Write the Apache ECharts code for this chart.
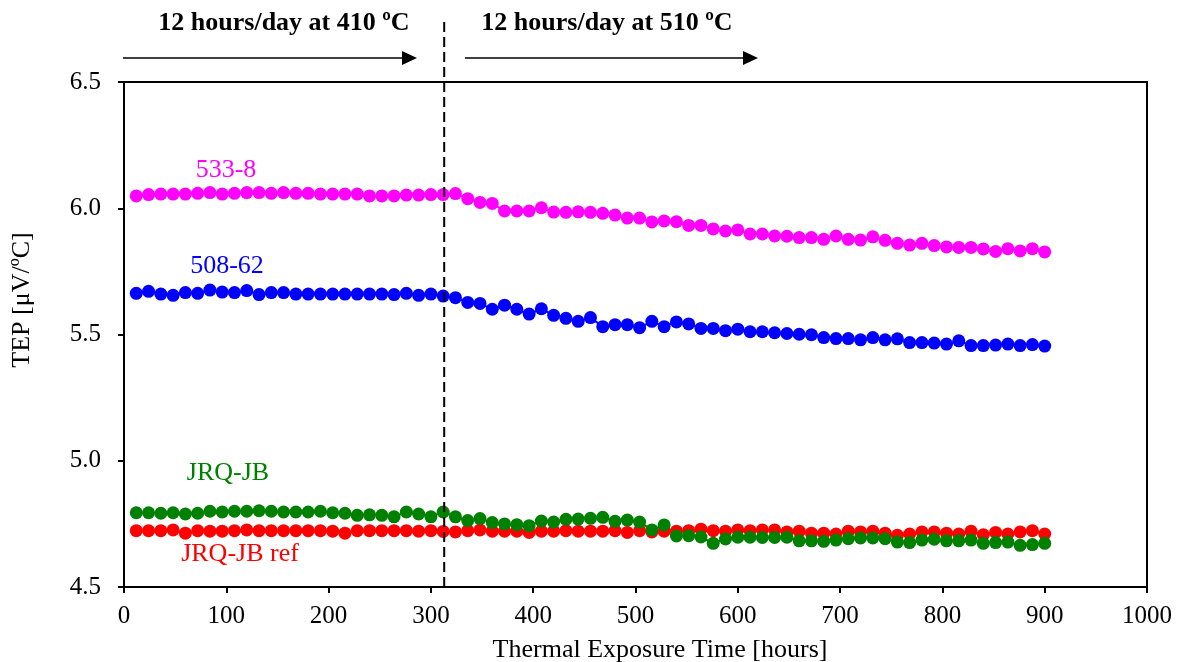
<!DOCTYPE html>
<html>
<head>
<meta charset="utf-8">
<script src="https://cdn.jsdelivr.net/npm/echarts@6/dist/echarts.min.js"></script>
<style>
html,body{margin:0;padding:0;background:#fff;}
#chart{width:1182px;height:662px;}
</style>
</head>
<body>
<div id="chart"></div>
<script>
const hours = [12,24,36,48,60,72,84,96,108,120,132,144,156,168,180,192,204,216,228,240,252,264,276,288,300,312,324,336,348,360,372,384,396,408,420,432,444,456,468,480,492,504,516,528,540,552,564,576,588,600,612,624,636,648,660,672,684,696,708,720,732,744,756,768,780,792,804,816,828,840,852,864,876,888,900];

const s533_8 = [6.049,6.054,6.056,6.056,6.056,6.059,6.062,6.056,6.059,6.062,6.062,6.059,6.062,6.059,6.059,6.056,6.056,6.056,6.056,6.049,6.049,6.049,6.052,6.052,6.054,6.054,6.058,6.038,6.023,6.019,5.989,5.989,5.989,6.002,5.985,5.984,5.986,5.984,5.980,5.973,5.961,5.961,5.946,5.950,5.947,5.932,5.932,5.918,5.910,5.914,5.898,5.898,5.890,5.889,5.884,5.884,5.877,5.890,5.877,5.874,5.887,5.873,5.861,5.854,5.861,5.852,5.847,5.845,5.845,5.839,5.829,5.840,5.831,5.840,5.827];

const s508_62 = [5.663,5.671,5.660,5.655,5.666,5.663,5.676,5.668,5.666,5.674,5.658,5.666,5.666,5.660,5.660,5.660,5.660,5.660,5.660,5.660,5.660,5.658,5.663,5.655,5.660,5.652,5.646,5.627,5.623,5.600,5.616,5.600,5.581,5.602,5.576,5.564,5.552,5.567,5.531,5.539,5.539,5.527,5.552,5.531,5.550,5.542,5.524,5.524,5.515,5.521,5.511,5.511,5.507,5.504,5.501,5.499,5.488,5.484,5.484,5.479,5.488,5.479,5.483,5.468,5.468,5.466,5.462,5.475,5.456,5.456,5.458,5.462,5.456,5.460,5.454];

const sJRQ_JB = [4.794,4.794,4.792,4.794,4.789,4.792,4.800,4.797,4.800,4.800,4.802,4.800,4.797,4.797,4.797,4.800,4.794,4.792,4.784,4.786,4.784,4.778,4.797,4.789,4.778,4.797,4.778,4.763,4.771,4.755,4.750,4.747,4.743,4.761,4.757,4.768,4.769,4.772,4.776,4.760,4.765,4.757,4.726,4.746,4.702,4.703,4.698,4.673,4.690,4.697,4.697,4.696,4.696,4.697,4.683,4.683,4.681,4.686,4.691,4.694,4.694,4.691,4.678,4.676,4.686,4.689,4.683,4.683,4.686,4.673,4.676,4.678,4.665,4.668,4.673];

const sJRQ_JB_ref = [4.723,4.723,4.723,4.726,4.713,4.723,4.721,4.721,4.723,4.726,4.723,4.723,4.723,4.723,4.723,4.723,4.721,4.713,4.723,4.723,4.723,4.723,4.723,4.721,4.723,4.720,4.718,4.723,4.726,4.721,4.721,4.721,4.716,4.721,4.721,4.723,4.721,4.721,4.721,4.723,4.716,4.723,4.718,4.721,4.721,4.723,4.729,4.723,4.721,4.726,4.723,4.726,4.726,4.718,4.721,4.713,4.713,4.710,4.721,4.718,4.721,4.713,4.705,4.710,4.718,4.718,4.713,4.710,4.721,4.707,4.716,4.710,4.718,4.723,4.710];

const switchHour = 313;
const FONT = '"Liberation Serif", "Times New Roman", serif';

const chart = echarts.init(document.getElementById('chart'), null, {renderer: 'canvas'});

function pairs(arr){ return hours.map((h,i)=>[h, arr[i]]); }
function mkSeries(name, arr, color){
  return {
    name: name, type: 'line', data: pairs(arr),
    symbol: 'circle', symbolSize: 13,
    itemStyle: {color: color},
    lineStyle: {color: color, width: 2},
    emphasis: {disabled: true},
    animation: false
  };
}

const option = {
  animation: false,
  backgroundColor: '#fff',
  grid: {left: 124, right: 35, top: 82, bottom: 75, containLabel: false, outerBoundsMode: 'none',
         show: true, borderColor: '#000', borderWidth: 2, backgroundColor: 'transparent'},
  xAxis: {
    type: 'value', min: 0, max: 1000, interval: 100,
    axisLine: {show: true, lineStyle: {color: '#000', width: 2}},
    axisTick: {show: true, inside: false, length: 6, lineStyle: {color: '#000', width: 2}},
    axisLabel: {fontFamily: FONT, fontSize: 25, color: '#000', margin: 17, formatter: v => String(v)},
    splitLine: {show: false}
  },
  yAxis: {
    type: 'value', min: 4.5, max: 6.5, interval: 0.5,
    axisLine: {show: true, lineStyle: {color: '#000', width: 2}},
    axisTick: {show: true, inside: false, length: 6, lineStyle: {color: '#000', width: 2}},
    axisLabel: {fontFamily: FONT, fontSize: 25, color: '#000', margin: 23, formatter: v => v.toFixed(1)},
    splitLine: {show: false}
  },
  series: [
    mkSeries('533-8', s533_8, '#FF00FF'),
    mkSeries('508-62', s508_62, '#0000FF'),
    mkSeries('JRQ-JB ref', sJRQ_JB_ref, '#FF0000'),
    mkSeries('JRQ-JB', sJRQ_JB, '#008000')
  ]
};
chart.setOption(option);

const xSwitch = chart.convertToPixel({xAxisIndex: 0}, switchHour);
const yBottom = chart.convertToPixel({yAxisIndex: 0}, 4.5);
const tStyle = (txt, color, size, bold) => ({text: txt, fill: color, font: (bold ? 'bold ' : '') + size + 'px ' + FONT, textAlign: 'center', textVerticalAlign: 'middle'});

chart.setOption({
  graphic: [
    {type: 'line', shape: {x1: xSwitch, y1: 22, x2: xSwitch, y2: yBottom}, style: {stroke: '#000', lineWidth: 2, lineDash: [10, 5]}, z: 100},
    {type: 'text', x: 284, y: 23, style: tStyle('12 hours/day at 410 ºC', '#000', 26, true)},
    {type: 'text', x: 607, y: 23, style: tStyle('12 hours/day at 510 ºC', '#000', 26, true)},
    {type: 'line', shape: {x1: 123, y1: 58, x2: 403, y2: 58}, style: {stroke: '#000', lineWidth: 1.3}},
    {type: 'polygon', shape: {points: [[402, 51], [417, 58], [402, 65]]}, style: {fill: '#000'}},
    {type: 'line', shape: {x1: 465, y1: 58, x2: 744, y2: 58}, style: {stroke: '#000', lineWidth: 1.3}},
    {type: 'polygon', shape: {points: [[743, 51], [758, 58], [743, 65]]}, style: {fill: '#000'}},
    {type: 'text', x: 22, y: 300, rotation: Math.PI / 2, style: tStyle('TEP [μV/ºC]', '#000', 26, false)},
    {type: 'text', x: 660, y: 650, style: tStyle('Thermal Exposure Time [hours]', '#000', 26, false)},
    {type: 'text', x: 226, y: 170, style: tStyle('533-8', '#FF00FF', 26, false)},
    {type: 'text', x: 227, y: 266, style: tStyle('508-62', '#0000FF', 26, false)},
    {type: 'text', x: 228, y: 473, style: tStyle('JRQ-JB', '#008000', 26, false)},
    {type: 'text', x: 240, y: 554, style: tStyle('JRQ-JB ref', '#FF0000', 26, false)}
  ]
});
</script>
</body>
</html>
